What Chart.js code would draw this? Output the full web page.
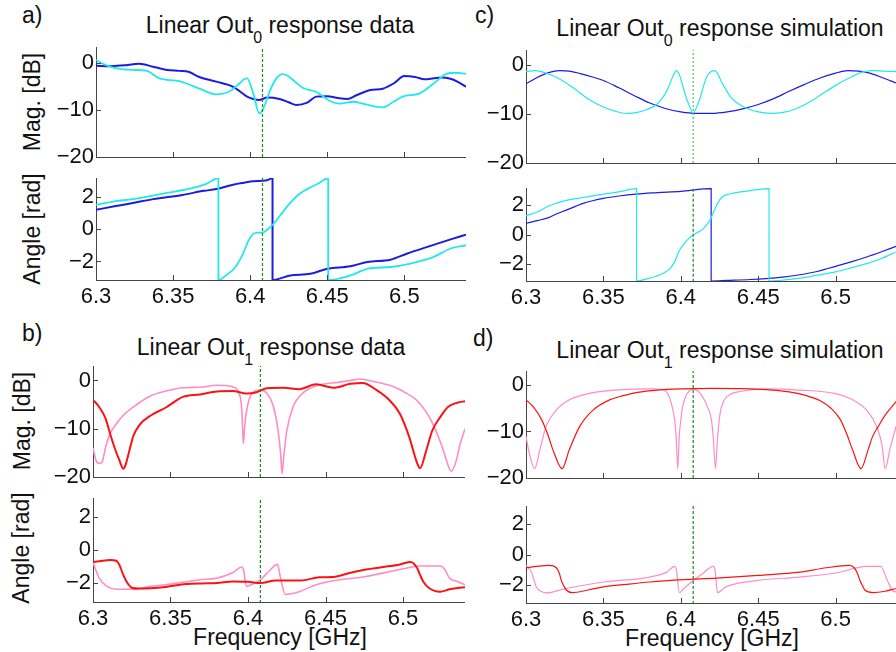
<!DOCTYPE html>
<html>
<head>
<meta charset="utf-8">
<script src="https://cdn.jsdelivr.net/npm/chart.js@4.4.1/dist/chart.umd.min.js"></script>
<style>
  body { margin: 0; width: 896px; height: 652px; overflow: hidden; position: relative; background: #fff;
         font-family: "Liberation Sans", Arial, sans-serif; color: #111; }
  canvas { position: absolute; }
  .t { position: absolute; white-space: nowrap; line-height: 1; font-size: 23px; }
  .c { transform: translateX(-50%); }
  .t sub { font-size: 16px; vertical-align: -10px; line-height: 0; }
  .v { position: absolute; white-space: nowrap; line-height: 1; font-size: 23px;
       transform: translate(-50%, -50%) rotate(-90deg); }
</style>
</head>
<body>
<div class="t" style="left:22px;top:4px">a)</div>
<div class="t" style="left:475px;top:4px">c)</div>
<div class="t" style="left:22px;top:322px">b)</div>
<div class="t" style="left:473px;top:327px">d)</div>

<div class="t c" style="left:280px;top:14px">Linear Out<sub>0</sub> response data</div>
<div class="t c" style="left:720px;top:17px">Linear Out<sub>0</sub> response simulation</div>
<div class="t c" style="left:271px;top:336px">Linear Out<sub>1</sub> response data</div>
<div class="t c" style="left:720px;top:339px">Linear Out<sub>1</sub> response simulation</div>

<div class="v" style="left:32px;top:102px">Mag. [dB]</div>
<div class="v" style="left:32px;top:229px">Angle [rad]</div>
<div class="v" style="left:22px;top:421px">Mag. [dB]</div>
<div class="v" style="left:21px;top:548px">Angle [rad]</div>

<div class="t c" style="left:280px;top:626px">Frequency [GHz]</div>
<div class="t c" style="left:712px;top:627px">Frequency [GHz]</div>

<script>
// ticks
const freqTicks = [6.3, 6.35, 6.4, 6.45, 6.5];
const magTicks = [-20, -10, 0];
const angTicks = [-2, 0, 2];

// dashed marker line
const markerFreq = [6.408, 6.408];
const magSpan = [-20, 4];
const angSpan = [-3.2, 3.2];

// a) Out0 measured, magnitude [dB]
const aMagBlueF = [6.300, 6.309, 6.318, 6.328, 6.337, 6.346, 6.354, 6.360, 6.367, 6.378, 6.389, 6.398, 6.402, 6.406, 6.411, 6.419, 6.425, 6.430, 6.437, 6.443, 6.450, 6.457, 6.463, 6.469, 6.478, 6.486, 6.493, 6.500, 6.507, 6.513, 6.519, 6.524, 6.530, 6.535, 6.540];
const aMagBlue  = [-0.5, -0.6, -0.4, -0.1, -0.7, -1.4, -1.6, -1.8, -2.9, -3.9, -5.0, -7.1, -7.6, -7.8, -7.3, -7.6, -8.3, -8.9, -8.4, -7.1, -7.0, -7.4, -7.6, -6.8, -5.7, -5.4, -4.3, -2.7, -2.9, -3.4, -3.2, -3.0, -3.3, -4.0, -5.0];
const aMagCyanF = [6.300, 6.309, 6.318, 6.324, 6.333, 6.341, 6.354, 6.367, 6.378, 6.387, 6.393, 6.396, 6.398, 6.402, 6.406, 6.409, 6.413, 6.417, 6.421, 6.424, 6.428, 6.434, 6.443, 6.452, 6.458, 6.467, 6.473, 6.482, 6.486, 6.493, 6.499, 6.510, 6.519, 6.527, 6.533, 6.540];
const aMagCyan  = [0.7, -0.7, -1.3, -1.4, -1.6, -3.2, -3.8, -5.4, -6.6, -5.9, -4.3, -3.4, -3.2, -6.4, -10.7, -9.3, -5.7, -3.2, -2.3, -2.6, -3.6, -5.2, -6.1, -8.1, -8.6, -8.2, -8.6, -9.3, -9.4, -8.2, -7.1, -6.4, -4.3, -2.3, -2.0, -2.2];

// a) Out0 measured, angle [rad]
const aAngBlueF = [6.300, 6.312, 6.324, 6.337, 6.356, 6.370, 6.378, 6.389, 6.396, 6.402, 6.411, 6.4145, 6.4145, 6.426, 6.439, 6.450, 6.465, 6.476, 6.491, 6.502, 6.515, 6.530, 6.540];
const aAngBlue  = [1.18, 1.4, 1.6, 1.84, 2.1, 2.35, 2.46, 2.73, 2.85, 2.94, 3.0, 3.14, -3.14, -2.86, -2.76, -2.45, -2.3, -2.03, -1.89, -1.51, -1.1, -0.64, -0.35];
const aAngCyanF = [6.300, 6.312, 6.324, 6.346, 6.363, 6.372, 6.3794, 6.3794, 6.385, 6.390, 6.395, 6.399, 6.402, 6.405, 6.408, 6.411, 6.415, 6.420, 6.425, 6.430, 6.435, 6.440, 6.445, 6.4506, 6.4506, 6.465, 6.476, 6.491, 6.504, 6.519, 6.530, 6.540];
const aAngCyan  = [1.49, 1.7, 1.84, 2.22, 2.53, 2.8, 3.14, -3.14, -2.8, -2.4, -1.6, -0.7, -0.3, -0.22, -0.22, -0.05, 0.3, 0.9, 1.5, 2.0, 2.35, 2.6, 2.85, 3.14, -3.14, -2.86, -2.45, -2.34, -2.13, -1.72, -1.2, -1.0];

// c) Out0 simulation, magnitude [dB]
const cMagBlueF = [6.300, 6.306, 6.312, 6.317, 6.322, 6.328, 6.335, 6.343, 6.350, 6.360, 6.370, 6.380, 6.390, 6.400, 6.410, 6.420, 6.430, 6.440, 6.450, 6.460, 6.470, 6.480, 6.490, 6.500, 6.508, 6.515, 6.522, 6.530, 6.539];
const cMagBlue  = [-3.9, -2.8, -1.9, -1.4, -1.2, -1.3, -1.8, -2.5, -3.2, -4.7, -6.3, -7.8, -8.9, -9.6, -9.9, -9.9, -9.6, -9.0, -8.1, -6.9, -5.4, -4.0, -2.7, -1.7, -1.2, -1.3, -1.7, -2.6, -3.7];
const cMagCyanF = [6.300, 6.306, 6.312, 6.320, 6.330, 6.340, 6.350, 6.358, 6.365, 6.372, 6.378, 6.384, 6.388, 6.391, 6.393, 6.395, 6.397, 6.399, 6.401, 6.403, 6.405, 6.408, 6.411, 6.413, 6.415, 6.417, 6.420, 6.422, 6.424, 6.426, 6.429, 6.432, 6.436, 6.442, 6.450, 6.458, 6.466, 6.474, 6.482, 6.490, 6.500, 6.510, 6.517, 6.524, 6.531, 6.539];
const cMagCyan  = [-1.4, -1.2, -1.6, -2.6, -4.6, -6.9, -8.6, -9.5, -9.9, -9.7, -9.1, -8.2, -6.8, -5.3, -3.8, -2.3, -1.2, -2.0, -4.0, -6.2, -8.0, -9.8, -8.0, -6.2, -4.0, -2.3, -1.3, -1.2, -1.9, -3.3, -5.0, -6.5, -7.7, -8.8, -9.6, -9.9, -9.7, -9.0, -7.8, -6.2, -4.2, -2.5, -1.5, -1.2, -1.3, -1.4];

// c) Out0 simulation, angle [rad]
const cAngBlueF = [6.300, 6.308, 6.315, 6.320, 6.326, 6.332, 6.337, 6.343, 6.350, 6.360, 6.371, 6.385, 6.400, 6.4196, 6.4196, 6.430, 6.445, 6.455, 6.466, 6.477, 6.488, 6.495, 6.500, 6.510, 6.520, 6.530, 6.539];
const cAngBlue  = [0.76, 0.95, 1.16, 1.4, 1.65, 1.9, 2.1, 2.28, 2.44, 2.6, 2.73, 2.83, 2.92, 3.1, -3.14, -3.1, -3.04, -2.98, -2.88, -2.72, -2.5, -2.3, -2.15, -1.85, -1.52, -1.15, -0.8];
const cAngCyanF = [6.300, 6.307, 6.315, 6.326, 6.337, 6.350, 6.360, 6.3715, 6.3715, 6.378, 6.384, 6.389, 6.393, 6.396, 6.399, 6.402, 6.404, 6.4075, 6.411, 6.4144, 6.417, 6.419, 6.4205, 6.422, 6.424, 6.4263, 6.430, 6.434, 6.445, 6.457, 6.457, 6.466, 6.477, 6.488, 6.500, 6.510, 6.520, 6.530, 6.539];
const cAngCyan  = [1.27, 1.5, 1.94, 2.3, 2.5, 2.73, 2.88, 3.1, -3.14, -3.0, -2.82, -2.6, -2.3, -1.85, -1.1, -0.65, -0.4, -0.07, 0.15, 0.38, 0.7, 0.97, 1.35, 1.72, 2.15, 2.5, 2.7, 2.8, 2.97, 3.1, -3.14, -3.08, -2.95, -2.75, -2.52, -2.25, -1.97, -1.6, -1.18];

// b) Out1 measured, magnitude [dB]
const bMagRedF = [6.300, 6.304, 6.308, 6.311, 6.314, 6.317, 6.3195, 6.321, 6.3235, 6.326, 6.330, 6.337, 6.347, 6.358, 6.369, 6.380, 6.390, 6.399, 6.405, 6.408, 6.412, 6.423, 6.433, 6.444, 6.455, 6.466, 6.474, 6.483, 6.491, 6.498, 6.504, 6.509, 6.511, 6.515, 6.519, 6.524, 6.529, 6.535, 6.540];
const bMagRed  = [-4.0, -5.5, -7.8, -11.0, -14.0, -16.5, -18.3, -17.5, -14.5, -11.5, -9.2, -7.3, -5.6, -3.4, -2.9, -2.3, -2.2, -2.7, -2.5, -2.1, -1.6, -1.5, -1.8, -0.8, -1.5, -0.7, -0.5, -2.0, -4.0, -6.9, -11.7, -17.0, -18.2, -14.5, -10.3, -7.6, -5.5, -4.6, -4.3];
const bMagPinkF = [6.300, 6.302, 6.304, 6.306, 6.308, 6.311, 6.315, 6.319, 6.326, 6.337, 6.347, 6.358, 6.369, 6.380, 6.390, 6.394, 6.396, 6.397, 6.398, 6.400, 6.403, 6.408, 6.412, 6.416, 6.419, 6.421, 6.422, 6.423, 6.425, 6.429, 6.434, 6.440, 6.448, 6.458, 6.466, 6.472, 6.481, 6.494, 6.502, 6.507, 6.511, 6.517, 6.521, 6.525, 6.528, 6.531, 6.534, 6.537, 6.540];
const bMagPink  = [-14.0, -16.6, -17.2, -16.8, -14.0, -11.0, -9.0, -7.4, -5.5, -3.2, -2.2, -1.5, -1.4, -1.0, -1.3, -2.5, -6.0, -13.1, -9.0, -4.8, -2.5, -2.0, -2.6, -5.0, -9.5, -15.0, -19.3, -16.0, -10.5, -5.5, -3.0, -1.6, -0.8, -0.4, 0.0, 0.3, -0.2, -1.3, -2.6, -3.6, -4.8, -7.6, -10.3, -13.5, -16.5, -18.8, -17.0, -13.0, -10.0];

// b) Out1 measured, angle [rad]
const bAngRedF = [6.300, 6.304, 6.311, 6.315, 6.317, 6.319, 6.321, 6.323, 6.325, 6.330, 6.337, 6.347, 6.360, 6.370, 6.380, 6.390, 6.400, 6.408, 6.418, 6.434, 6.446, 6.455, 6.466, 6.476, 6.487, 6.498, 6.505, 6.509, 6.511, 6.513, 6.517, 6.524, 6.530, 6.535, 6.540];
const bAngRed  = [-0.72, -0.68, -0.6, -0.65, -0.9, -1.38, -1.8, -2.1, -2.28, -2.33, -2.31, -2.23, -2.06, -2.02, -2.0, -1.9, -1.92, -2.0, -1.84, -1.84, -1.65, -1.63, -1.38, -1.18, -1.03, -0.87, -0.72, -1.07, -1.5, -1.9, -2.31, -2.52, -2.37, -2.3, -2.25];
const bAngPinkF = [6.300, 6.304, 6.309, 6.315, 6.326, 6.337, 6.347, 6.358, 6.369, 6.380, 6.390, 6.396, 6.397, 6.399, 6.401, 6.408, 6.414, 6.419, 6.421, 6.424, 6.433, 6.444, 6.455, 6.476, 6.498, 6.511, 6.524, 6.527, 6.530, 6.535, 6.540];
const bAngPink  = [-0.76, -1.7, -2.2, -2.37, -2.37, -2.2, -2.1, -1.95, -1.8, -1.7, -1.38, -1.03, -1.15, -2.2, -2.14, -1.8, -1.24, -0.87, -1.7, -2.68, -2.52, -2.1, -1.86, -1.6, -1.18, -0.97, -0.97, -1.18, -1.7, -1.9, -2.1];

// d) Out1 simulation, magnitude [dB]
const dMagRedF = [6.300, 6.305, 6.310, 6.314, 6.318, 6.3233, 6.328, 6.3347, 6.3433, 6.354, 6.363, 6.372, 6.385, 6.400, 6.420, 6.440, 6.455, 6.470, 6.480, 6.490, 6.497, 6.503, 6.507, 6.511, 6.5164, 6.521, 6.524, 6.5276, 6.532, 6.536, 6.539];
const dMagRed  = [-3.2, -4.8, -7.4, -10.6, -14.5, -18.0, -13.9, -8.9, -5.4, -3.2, -2.3, -1.6, -1.1, -0.85, -0.75, -0.8, -1.0, -1.5, -2.2, -3.4, -5.0, -7.4, -10.4, -14.0, -18.0, -13.9, -11.0, -8.9, -6.5, -4.8, -3.6];
const dMagPinkF = [6.300, 6.302, 6.3056, 6.309, 6.313, 6.3196, 6.328, 6.341, 6.358, 6.380, 6.388, 6.391, 6.393, 6.395, 6.396, 6.397, 6.398, 6.399, 6.400, 6.401, 6.403, 6.405, 6.408, 6.411, 6.414, 6.417, 6.4198, 6.421, 6.4224, 6.4237, 6.4248, 6.426, 6.428, 6.432, 6.438, 6.455, 6.477, 6.499, 6.511, 6.520, 6.5265, 6.530, 6.532, 6.535, 6.539];
const dMagPink  = [-11.0, -14.5, -18.0, -13.9, -8.9, -5.4, -3.2, -1.8, -1.1, -0.85, -1.0, -1.6, -3.0, -5.5, -7.5, -11.0, -18.0, -11.0, -7.5, -5.0, -2.6, -1.5, -0.85, -1.3, -2.5, -4.5, -7.5, -11.5, -18.0, -11.5, -7.5, -5.0, -3.3, -2.0, -1.4, -0.85, -1.1, -1.8, -3.2, -5.4, -8.9, -13.0, -18.0, -13.9, -8.9];

// d) Out1 simulation, angle [rad]
const dAngRedF = [6.300, 6.307, 6.315, 6.3196, 6.3215, 6.3228, 6.3245, 6.326, 6.330, 6.340, 6.350, 6.365, 6.380, 6.402, 6.423, 6.450, 6.477, 6.494, 6.509, 6.512, 6.514, 6.5157, 6.5175, 6.519, 6.524, 6.532, 6.539];
const dAngRed  = [-0.86, -0.77, -0.71, -0.86, -1.2, -1.68, -2.05, -2.3, -2.47, -2.3, -2.1, -1.93, -1.78, -1.63, -1.53, -1.35, -1.14, -0.86, -0.71, -0.86, -1.2, -1.68, -2.05, -2.32, -2.47, -2.38, -2.2];
const dAngPinkF = [6.300, 6.3035, 6.3067, 6.310, 6.313, 6.326, 6.350, 6.380, 6.391, 6.396, 6.397, 6.3991, 6.402, 6.408, 6.414, 6.421, 6.422, 6.4237, 6.429, 6.450, 6.477, 6.500, 6.520, 6.529, 6.5334, 6.5366, 6.539];
const dAngPink  = [-0.71, -1.14, -2.1, -2.4, -2.49, -2.2, -1.78, -1.46, -1.14, -0.77, -0.92, -2.47, -2.2, -1.68, -1.24, -0.77, -0.92, -2.47, -2.1, -1.68, -1.46, -1.2, -0.77, -0.77, -1.68, -2.32, -2.43];

const BLUE = '#1c1ce0', CYAN = '#22e8ec', RED = '#f81414', PINK = '#ff8cc4';
const GREEN = '#1b8a1b', GREEN_LIGHT = '#5cbf5c', AXIS = '#444';
const FONT = '"Liberation Sans", Arial, sans-serif';

function pts(f, v) {
  if (f.length !== v.length) throw new Error('length mismatch ' + f.length + ' vs ' + v.length);
  return f.map((x, i) => ({ x: x, y: v[i] }));
}
function series(f, v, color, w, order) {
  return { data: pts(f, v), borderColor: color, borderWidth: w, pointRadius: 0,
           cubicInterpolationMode: 'monotone', fill: false, order: order };
}
function marker(span, color, dash) {
  return { data: pts(markerFreq, span), borderColor: color, borderWidth: 1.2, borderDash: dash,
           pointRadius: 0, fill: false, order: 0 };
}
const fmt = v => String(v).replace('-', '\u2212');

// ticks drawn inward like the original
const inwardTicks = {
  id: 'inwardTicks',
  afterDatasetsDraw(chart) {
    const { ctx, chartArea: a, scales: { x, y } } = chart;
    ctx.save();
    ctx.strokeStyle = AXIS;
    ctx.lineWidth = 1;
    ctx.beginPath();
    x.ticks.forEach(t => {
      const px = Math.round(x.getPixelForValue(t.value)) + 0.5;
      if (px < a.left + 2) return;
      ctx.moveTo(px, a.bottom); ctx.lineTo(px, a.bottom - 5);
    });
    y.ticks.forEach(t => {
      const py = Math.round(y.getPixelForValue(t.value)) + 0.5;
      ctx.moveTo(a.left, py); ctx.lineTo(a.left + 5, py);
    });
    ctx.stroke();
    ctx.restore();
  }
};

const YW = 80, PT = 2;

function plot(box, xMax, yRange, yTicks, showX, datasets) {
  const [L, T, R, B] = box;
  const XH = showX ? 40 : 16;
  const cv = document.createElement('canvas');
  cv.width = R - L + YW;
  cv.height = B - T + PT + XH;
  cv.style.left = (L - YW) + 'px';
  cv.style.top = (T - PT) + 'px';
  document.body.appendChild(cv);
  new Chart(cv, {
    type: 'line',
    data: { datasets: datasets },
    options: {
      responsive: false,
      animation: false,
      devicePixelRatio: 1,
      layout: { padding: { top: PT, left: 0, right: 0, bottom: 0 } },
      plugins: { legend: { display: false }, tooltip: { enabled: false } },
      scales: {
        x: {
          type: 'linear', min: 6.3, max: xMax,
          grid: { display: false, drawTicks: false },
          border: { color: AXIS, width: 1 },
          ticks: { display: showX, color: '#111', padding: 4, maxRotation: 0, autoSkip: false,
                   font: { size: 22, family: FONT }, callback: fmt },
          afterBuildTicks: s => { s.ticks = freqTicks.map(v => ({ value: v })); },
          afterFit: s => { s.height = XH; s.paddingLeft = 0; s.paddingRight = 0; }
        },
        y: {
          min: yRange[0], max: yRange[1],
          grid: { display: false, drawTicks: false },
          border: { color: AXIS, width: 1 },
          ticks: { color: '#111', padding: 2, font: { size: 22, family: FONT }, callback: fmt },
          afterBuildTicks: s => { s.ticks = yTicks.map(v => ({ value: v })); },
          afterFit: s => { s.width = YW; s.paddingTop = 0; s.paddingBottom = 0; }
        }
      }
    },
    plugins: [inwardTicks]
  });
}

const ANG = [-3.1416, 3.1416];

// a)
plot([96, 47, 466, 157], 6.54, [-20, 3.5], magTicks, false, [
  series(aMagBlueF, aMagBlue, BLUE, 2, 2), series(aMagCyanF, aMagCyan, CYAN, 1.8, 1),
  marker(magSpan, GREEN, [3, 2])]);
plot([96, 178, 466, 280], 6.54, ANG, angTicks, true, [
  series(aAngBlueF, aAngBlue, BLUE, 2, 2), series(aAngCyanF, aAngCyan, CYAN, 1.8, 1),
  marker(angSpan, GREEN, [3, 2])]);
// c)
plot([526, 50, 896, 163], 6.539, [-20, 3], magTicks, false, [
  series(cMagBlueF, cMagBlue, BLUE, 1.2, 2), series(cMagCyanF, cMagCyan, CYAN, 1.2, 1),
  marker(magSpan, GREEN_LIGHT, [2, 2])]);
plot([526, 188, 896, 281], 6.539, ANG, angTicks, true, [
  series(cAngBlueF, cAngBlue, BLUE, 1.2, 2), series(cAngCyanF, cAngCyan, CYAN, 1.2, 1),
  marker(angSpan, GREEN, [3, 2])]);
// b)
plot([93, 366, 465, 477], 6.54, [-20, 3], magTicks, false, [
  series(bMagPinkF, bMagPink, PINK, 1.6, 2), series(bMagRedF, bMagRed, RED, 2, 1),
  marker(magSpan, GREEN, [3, 2])]);
plot([93, 498, 465, 602], 6.54, ANG, angTicks, true, [
  series(bAngPinkF, bAngPink, PINK, 1.6, 2), series(bAngRedF, bAngRed, RED, 2, 1),
  marker(angSpan, GREEN, [3, 2])]);
// d)
plot([526, 371, 896, 478], 6.539, [-20, 3], magTicks, false, [
  series(dMagPinkF, dMagPink, PINK, 1.2, 2), series(dMagRedF, dMagRed, RED, 1.2, 1),
  marker(magSpan, GREEN, [3, 2])]);
plot([526, 506, 896, 603], 6.539, ANG, angTicks, true, [
  series(dAngPinkF, dAngPink, PINK, 1.2, 2), series(dAngRedF, dAngRed, RED, 1.2, 1),
  marker(angSpan, GREEN, [3, 2])]);
</script>
</body>
</html>
